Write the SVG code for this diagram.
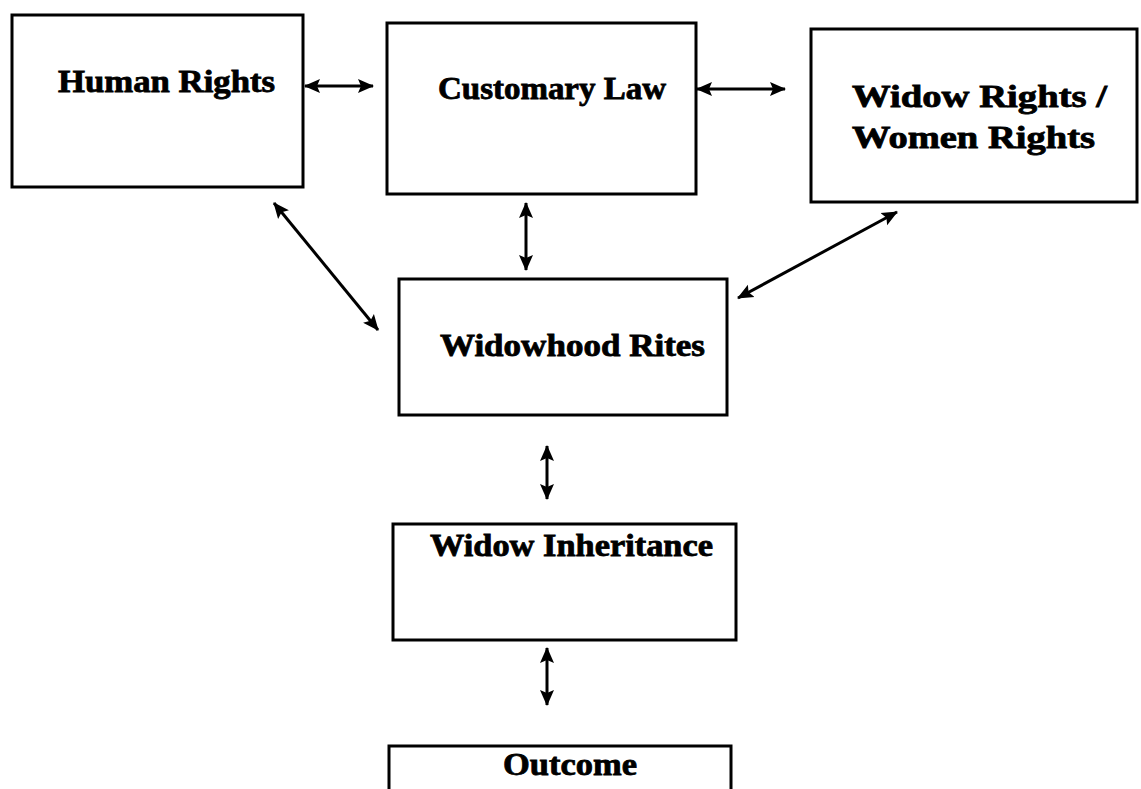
<svg xmlns="http://www.w3.org/2000/svg" width="1141" height="789" viewBox="0 0 1141 789">
<style>
.box{fill:#fff;stroke:#000;stroke-width:3}
.lbl{font-family:"Liberation Serif","Times New Roman",serif;font-weight:bold;font-size:31px;fill:#000;stroke:#000;stroke-width:0.8}
.conn{stroke:#000;stroke-width:3;fill:none;marker-start:url(#ah);marker-end:url(#ah)}
</style>
<defs>
<marker id="ah" markerUnits="userSpaceOnUse" markerWidth="16" markerHeight="16" viewBox="0 0 16 16" refX="15" refY="8" orient="auto-start-reverse">
<path d="M0,1 L16,8 L0,15 L3,8 z" fill="#000"/>
</marker>
</defs>
<rect width="1141" height="789" fill="#fff"/>
<g id="connectors">
<line class="conn" x1="305" y1="86" x2="373" y2="86"/>
<line class="conn" x1="697" y1="89" x2="785" y2="89"/>
<line class="conn" x1="526" y1="203" x2="526" y2="270"/>
<line class="conn" x1="274" y1="203" x2="378" y2="330"/>
<line class="conn" x1="897" y1="212" x2="738" y2="298"/>
<line class="conn" x1="547" y1="446" x2="547" y2="499"/>
<line class="conn" x1="547" y1="648" x2="547" y2="705"/>
</g>
<g id="human-rights">
<rect class="box" x="12" y="15" width="291" height="172"/>
<text class="lbl" x="58" y="92" textLength="217" lengthAdjust="spacingAndGlyphs">Human Rights</text>
</g>
<g id="customary-law">
<rect class="box" x="387" y="23" width="309" height="171"/>
<text class="lbl" x="438" y="99" textLength="228" lengthAdjust="spacingAndGlyphs">Customary Law</text>
</g>
<g id="widow-rights">
<rect class="box" x="811" y="29" width="326" height="173"/>
<text class="lbl" x="852" y="107" textLength="255" lengthAdjust="spacingAndGlyphs">Widow Rights /</text>
<text class="lbl" x="852" y="148" textLength="243" lengthAdjust="spacingAndGlyphs">Women Rights</text>
</g>
<g id="widowhood-rites">
<rect class="box" x="399" y="279" width="328" height="136"/>
<text class="lbl" x="440" y="356" textLength="265" lengthAdjust="spacingAndGlyphs">Widowhood Rites</text>
</g>
<g id="widow-inheritance">
<rect class="box" x="393" y="524" width="343" height="116"/>
<text class="lbl" x="430" y="556" textLength="283" lengthAdjust="spacingAndGlyphs">Widow Inheritance</text>
</g>
<g id="outcome">
<rect class="box" x="389" y="746" width="342" height="60"/>
<text class="lbl" x="503" y="775" textLength="134" lengthAdjust="spacingAndGlyphs">Outcome</text>
</g>
</svg>
